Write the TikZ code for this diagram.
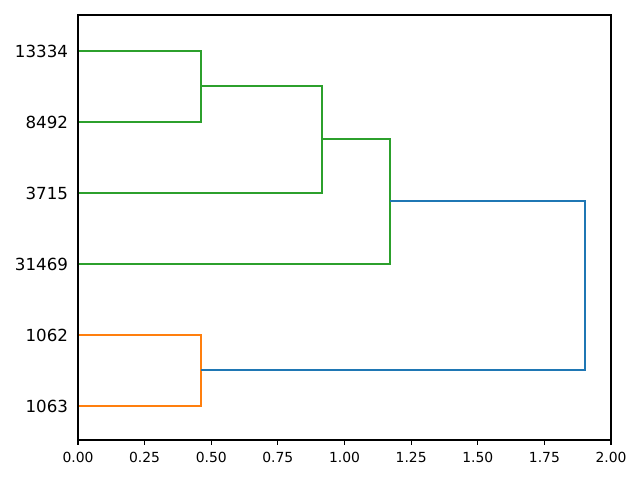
\documentclass[tikz,border=0pt]{standalone}
\usepackage{fontspec}
\setmainfont{DejaVu Sans}
\definecolor{mplblue}{HTML}{1F77B4}
\definecolor{mplorange}{HTML}{FF7F0E}
\definecolor{mplgreen}{HTML}{2CA02C}
\tikzset{
	link/.style={line width=1.5pt},
	leaflabel/.style={anchor=east,inner sep=0pt,font=\fontsize{12}{14}\selectfont},
	ticklabel/.style={anchor=north,inner sep=0pt,font=\fontsize{10}{12}\selectfont}
}
\begin{document}
\begin{tikzpicture}[x=0.72pt,y=-0.72pt]
	\useasboundingbox (0,0) rectangle (640,480);

	% Fulles
	\coordinate (L13334) at (78,51);
	\coordinate (L8492) at (78,122);
	\coordinate (L3715) at (78,193);
	\coordinate (L31469) at (78,264);
	\coordinate (L1062) at (78,335);
	\coordinate (L1063) at (78,406);

	% Unions
	\coordinate (Ma) at (201,86);
	\coordinate (Mb) at (322,139);
	\coordinate (Mc) at (390,201);
	\coordinate (Md) at (201,370);
	\coordinate (Mr) at (585,286);

	% Branques
	\draw[link,mplgreen] (L13334) -| (Ma) |- (L8492);
	\draw[link,mplgreen] (Ma) -| (Mb) |- (L3715);
	\draw[link,mplgreen] (Mb) -| (Mc) |- (L31469);
	\draw[link,mplorange] (L1062) -| (Md) |- (L1063);
	\draw[link,mplblue] (Mc) -| (Mr) |- (Md);

	% Eixos
	\draw[line width=0.8pt] (78,15) rectangle (611,440);

	% Etiquetes
	\foreach \lf in {13334,8492,3715,31469,1062,1063}
		\node[leaflabel] (t\lf) at ([xshift=-7pt]L\lf) {\lf};

	\foreach \v [count=\i from 0] in {0.00,0.25,0.50,0.75,1.00,1.25,1.50,1.75,2.00} {
		\coordinate (x\i) at (78+66.625*\i,440);
		\draw[line width=0.8pt] (x\i) -- ++(0,4.86);
		\node[ticklabel] (xl\i) at ([yshift=-8.5pt]x\i) {\v};
	}

\end{tikzpicture}
\end{document}
